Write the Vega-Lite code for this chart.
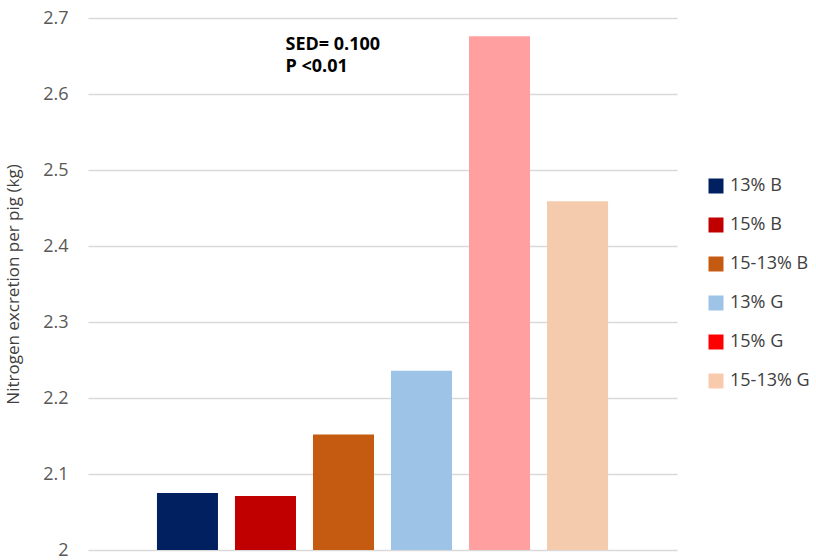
{
  "$schema": "https://vega.github.io/schema/vega-lite/v6.json",
  "width": 589,
  "height": 532,
  "autosize": {"type": "none"},
  "padding": {"left": 88, "top": 18, "right": 139, "bottom": 10},
  "background": "white",
  "config": {"view": {"stroke": null}, "font": "Open Sans"},
  "datasets": {
    "bars": [
      {"group": "13% B", "value": 2.075},
      {"group": "15% B", "value": 2.071},
      {"group": "15-13% B", "value": 2.152},
      {"group": "13% G", "value": 2.236},
      {"group": "15% G", "value": 2.676},
      {"group": "15-13% G", "value": 2.459}
    ],
    "note": [
      {"group": "15% B", "value": 2.665, "label": "SED= 0.100\nP <0.01"}
    ]
  },
  "layer": [
    {
      "data": {"name": "bars"},
      "mark": {"type": "bar", "clip": true},
      "encoding": {
        "x": {
          "field": "group", "type": "nominal",
          "sort": ["13% B", "15% B", "15-13% B", "13% G", "15% G", "15-13% G"],
          "scale": {"paddingInner": 0.218, "paddingOuter": 0.884},
          "axis": null
        },
        "y": {
          "field": "value", "type": "quantitative",
          "scale": {"domain": [2, 2.7], "zero": false, "nice": false},
          "axis": {
            "values": [2, 2.1, 2.2, 2.3, 2.4, 2.5, 2.6, 2.7],
            "format": "~r",
            "title": "Nitrogen excretion per pig (kg)",
            "titleFont": "Open Sans",
            "titleFontSize": 17,
            "titleFontWeight": "normal",
            "titleColor": "#404040",
            "titlePadding": 20,
            "labelFontSize": 18,
            "labelColor": "#595959",
            "labelPadding": 20,
            "ticks": false,
            "domain": false,
            "grid": true,
            "gridColor": "#D9D9D9",
            "gridWidth": 1.3
          }
        },
        "color": {
          "field": "group", "type": "nominal",
          "scale": {
            "domain": ["13% B", "15% B", "15-13% B", "13% G", "15% G", "15-13% G"],
            "range": ["#002060", "#C00000", "#C55A11", "#9DC3E6", "#FF9F9F", "#F4CBAC"]
          },
          "legend": null
        }
      }
    },
    {
      "data": {"name": "bars"},
      "mark": {"type": "square", "size": 0},
      "encoding": {
        "x": {"field": "group", "type": "nominal", "sort": ["13% B", "15% B", "15-13% B", "13% G", "15% G", "15-13% G"]},
        "y": {"field": "value", "type": "quantitative"},
        "color": {
          "field": "group", "type": "nominal",
          "scale": {
            "domain": ["13% B", "15% B", "15-13% B", "13% G", "15% G", "15-13% G"],
            "range": ["#002060", "#C00000", "#C55A11", "#9DC3E6", "#FF0000", "#F8CBAD"]
          },
          "legend": {
            "title": null,
            "orient": "none",
            "legendX": 619,
            "legendY": 159,
            "symbolType": "square",
            "symbolSize": 225,
            "symbolOpacity": 1,
            "symbolStrokeWidth": 0,
            "labelOpacity": 1,
            "labelFontSize": 18,
            "labelColor": "#404040",
            "labelOffset": 5,
            "rowPadding": 21
          }
        }
      }
    },
    {
      "data": {"name": "note"},
      "mark": {"type": "text", "align": "left", "baseline": "middle", "dx": 20, "fontWeight": "bold", "fontSize": 18, "lineBreak": "\n", "lineHeight": 22, "color": "#000000"},
      "encoding": {
        "x": {"field": "group", "type": "nominal", "sort": ["13% B", "15% B", "15-13% B", "13% G", "15% G", "15-13% G"]},
        "y": {"field": "value", "type": "quantitative"},
        "text": {"field": "label"}
      }
    }
  ],
  "resolve": {"scale": {"color": "independent"}, "legend": {"color": "independent"}}
}
